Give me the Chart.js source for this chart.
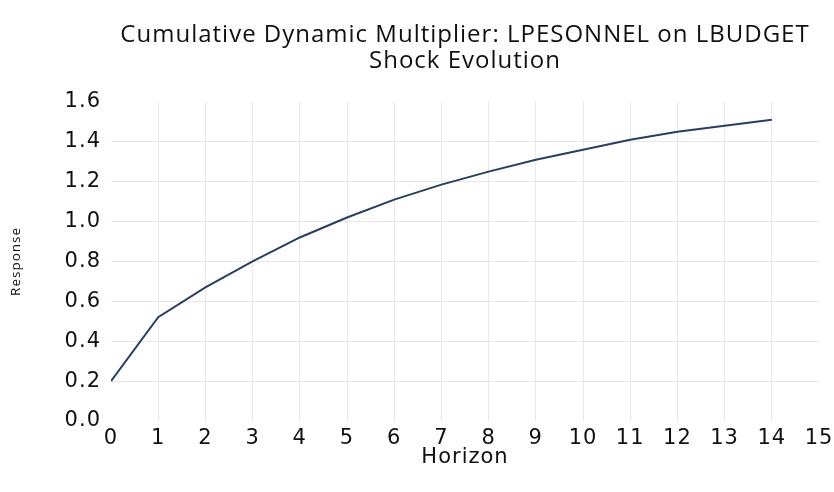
<!DOCTYPE html>
<html>
<head>
<meta charset="utf-8">
<script src="https://cdn.jsdelivr.net/npm/chart.js@4.4.1/dist/chart.umd.min.js"></script>
<style>
  html, body { margin: 0; padding: 0; background: #fff; }
  #wrap { width: 834px; height: 492px; }
</style>
</head>
<body>
<div id="wrap"><canvas id="chart" width="834" height="492"></canvas></div>
<script>
// ─── Data ─────────────────────────────────────────────────────────
const horizons  = [0, 1, 2, 3, 4, 5, 6, 7, 8, 9, 10, 11, 12, 13, 14];
const responses = [0.20, 0.52, 0.67, 0.80, 0.92, 1.02, 1.11, 1.185, 1.25, 1.31, 1.36, 1.41, 1.45, 1.48, 1.51];
const titleLines = ['Cumulative Dynamic Multiplier: LPESONNEL on LBUDGET', 'Shock Evolution'];
const xLabel = 'Horizon';
const yLabel = 'Response';

const LINE = '#2a3f5f';
const GRID = '#e8e8e8';
const TICK_FONT = { family: '"DejaVu Sans", sans-serif', size: 21 };

// slightly open letter spacing, like the reference text
const spacing = {
  id: 'spacing',
  beforeLayout(c) { c.ctx.letterSpacing = '1px'; },
  beforeDraw(c)   { c.ctx.letterSpacing = '1px'; },
};

// no grid lines on the outer edges of the plot
const edgeless = (lo, hi) => ctx => {
  const v = ctx.tick ? ctx.tick.value : null;
  return (v === null || Math.abs(v - lo) < 1e-9 || Math.abs(v - hi) < 1e-9) ? 'rgba(0,0,0,0)' : GRID;
};

new Chart(document.getElementById('chart').getContext('2d'), {
  type: 'line',
  data: {
    datasets: [{
      data: horizons.map((h, i) => ({ x: h, y: responses[i] })),
      borderColor: LINE, borderWidth: 2, pointRadius: 0, tension: 0, fill: false,
    }],
  },
  options: {
    responsive: false, animation: false,
    layout: { padding: { left: 0, right: 15, top: 0, bottom: 0 } },
    plugins: {
      legend: { display: false },
      tooltip: { enabled: false },
      title: {
        display: true, text: titleLines, fullSize: false, color: '#111',
        font: { family: '"Open Sans", sans-serif', size: 24, weight: 'normal', lineHeight: 1.08 },
        padding: { top: 22, bottom: 28 },
      },
    },
    scales: {
      x: {
        type: 'linear', min: 0, max: 15,
        border: { display: false },
        grid: { color: edgeless(0, 15), drawTicks: false, lineWidth: 1 },
        ticks: { stepSize: 1, padding: 5, color: '#111', font: TICK_FONT },
        title: { display: true, text: xLabel, color: '#111', font: { family: '"DejaVu Sans", sans-serif', size: 21 }, padding: { top: 0, bottom: 22 } },
        afterFit: s => { s.height = 71; s.paddingLeft = 0; s.paddingRight = 0; },
      },
      y: {
        min: 0, max: 1.6,
        border: { display: false },
        grid: { color: edgeless(0, 1.6), drawTicks: false, lineWidth: 1 },
        ticks: { stepSize: 0.2, padding: 10, color: '#111', font: TICK_FONT, callback: v => v.toFixed(1) },
        title: {
          display: true, text: yLabel, color: '#111',
          font: { family: '"Open Sans", sans-serif', size: 13.5 },
          padding: { top: 8, bottom: 0 },
        },
        afterFit: s => { s.width = 111; },
      },
    },
  },
  plugins: [spacing],
});
</script>
</body>
</html>
